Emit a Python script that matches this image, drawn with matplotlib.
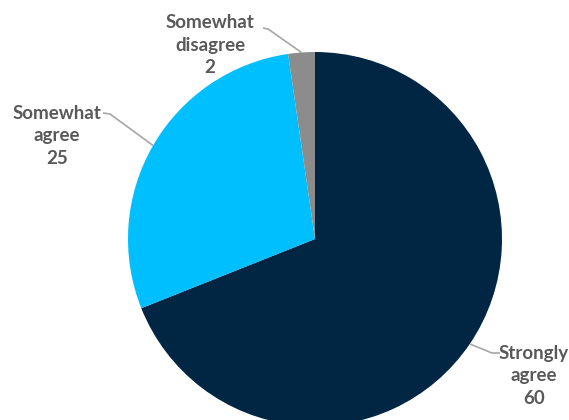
import numpy as np
import matplotlib
matplotlib.use("Agg")
import matplotlib.pyplot as plt

# Survey responses
categories = ["Strongly\nagree", "Somewhat\nagree", "Somewhat\ndisagree"]
values = [60, 25, 2]
colors = ["#002644", "#00BFFF", "#8C8C8C"]

W, H = 569, 420
fig = plt.figure(figsize=(W / 100, H / 100), dpi=100)
ax = fig.add_axes([0, 0, 1, 1])

center = (315, 181)
radius = 187
wedges, _ = ax.pie(values, colors=colors, startangle=90, counterclock=False,
                   center=center, radius=radius, frame=True,
                   wedgeprops=dict(linewidth=0))
ax.set_xlim(0, W)
ax.set_ylim(0, H)
ax.set_aspect("equal")
ax.axis("off")

# label block centre, elbow start (near text), elbow end
label_layout = [
    dict(text_xy=(534, 44), elbow=[(500, 67), (492, 67)]),
    dict(text_xy=(57, 284), elbow=[(103, 307), (110, 306)]),
    dict(text_xy=(210, 375), elbow=[(263, 392), (268, 391)]),
]

text_color = "#595959"
line_color = "#A6A6A6"
for w, cat, val, lay in zip(wedges, categories, values, label_layout):
    mid = np.deg2rad((w.theta1 + w.theta2) / 2)
    edge = (center[0] + radius * np.cos(mid), center[1] + radius * np.sin(mid))
    xs = [lay["elbow"][0][0], lay["elbow"][1][0], edge[0]]
    ys = [lay["elbow"][0][1], lay["elbow"][1][1], edge[1]]
    ax.plot(xs, ys, color=line_color, lw=1.2, solid_capstyle="butt", zorder=3)
    ax.text(lay["text_xy"][0], lay["text_xy"][1], f"{cat}\n{val}",
            ha="center", va="center", multialignment="center",
            fontsize=13.5, fontfamily="Lato", fontweight="bold",
            color=text_color, linespacing=1.4)

fig.savefig("out.png", dpi=100)
